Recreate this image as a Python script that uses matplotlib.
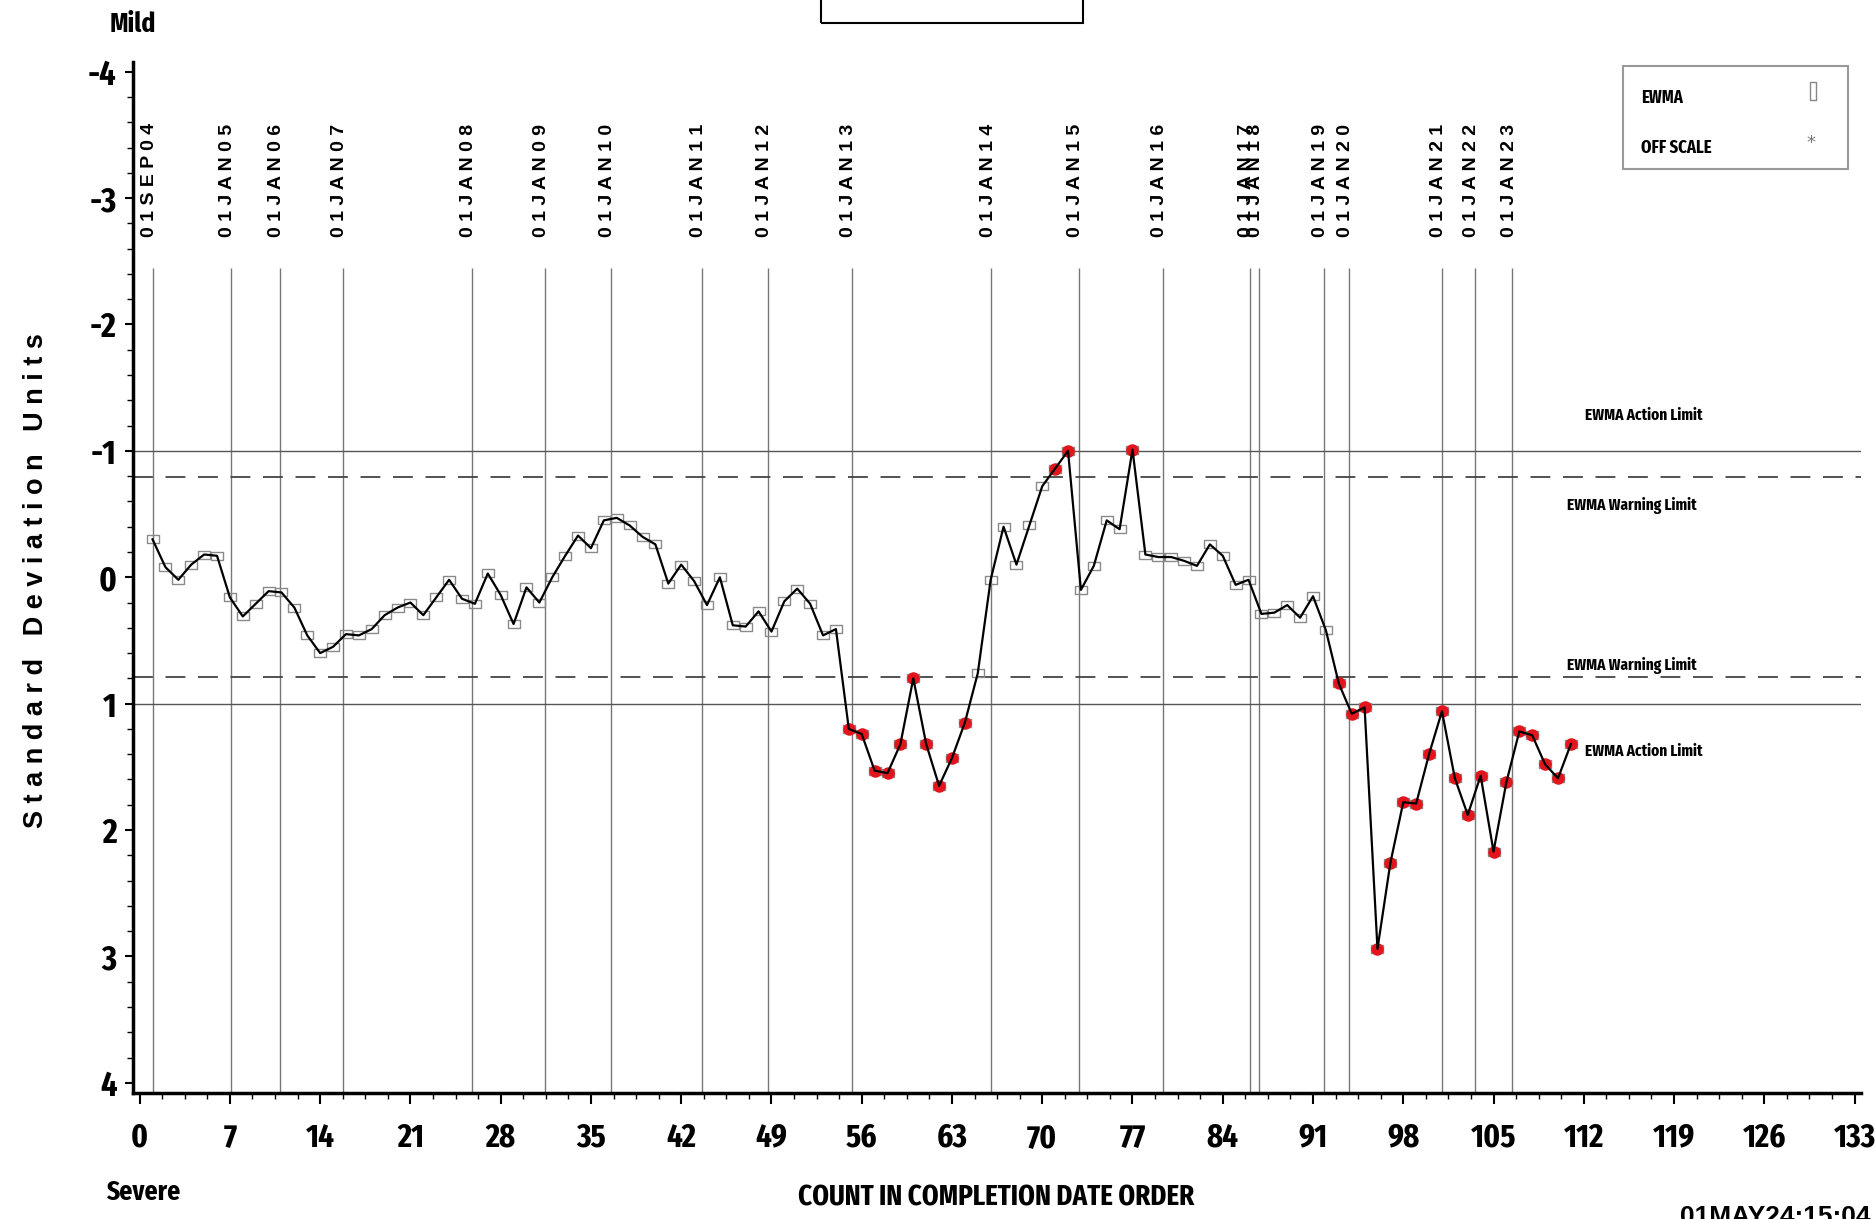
import numpy as np
import matplotlib.pyplot as plt
from matplotlib.patches import Rectangle
from matplotlib.ticker import MultipleLocator

# compressed bold face, with fallbacks
narrow = ['Fira Sans Extra Condensed', 'Roboto Condensed', 'Liberation Sans', 'DejaVu Sans']
plt.rcParams['font.family'] = narrow
plt.rcParams['font.weight'] = 'bold'

# EWMA in standard deviation units, one value per count (completion date order)
ewma = [-0.30, -0.08, 0.02, -0.10, -0.18, -0.17, 0.16, 0.31, 0.21, 0.11,
        0.12, 0.24, 0.46, 0.60, 0.55, 0.45, 0.46, 0.41, 0.30, 0.24,
        0.20, 0.30, 0.16, 0.02, 0.17, 0.21, -0.03, 0.14, 0.37, 0.08,
        0.20, 0.00, -0.17, -0.33, -0.23, -0.45, -0.47, -0.41, -0.32, -0.26,
        0.05, -0.10, 0.03, 0.22, 0.00, 0.38, 0.39, 0.27, 0.43, 0.19,
        0.09, 0.21, 0.46, 0.41, 1.20, 1.24, 1.53, 1.55, 1.32, 0.80,
        1.32, 1.65, 1.43, 1.15, 0.76, 0.02, -0.40, -0.10, -0.41, -0.72,
        -0.86, -1.00, 0.10, -0.09, -0.45, -0.38, -1.01, -0.18, -0.16, -0.16,
        -0.13, -0.09, -0.26, -0.17, 0.06, 0.02, 0.29, 0.28, 0.22, 0.32,
        0.15, 0.42, 0.84, 1.08, 1.03, 2.94, 2.26, 1.78, 1.79, 1.40,
        1.06, 1.59, 1.88, 1.57, 2.17, 1.62, 1.22, 1.25, 1.48, 1.59,
        1.32]
count = np.arange(1, len(ewma) + 1)
ewma = np.array(ewma)

action_limit = 1.0
warning_limit = 0.79

# reference dates and where they fall on the count axis
date_labels = ['01SEP04', '01JAN05', '01JAN06', '01JAN07', '01JAN08', '01JAN09',
               '01JAN10', '01JAN11', '01JAN12', '01JAN13', '01JAN14', '01JAN15',
               '01JAN16', '01JAN17', '01JAN18', '01JAN19', '01JAN20', '01JAN21',
               '01JAN22', '01JAN23']
date_pos = [1.0, 7.05, 10.85, 15.75, 25.75, 31.4, 36.55, 43.6, 48.7, 55.25,
            66.05, 72.85, 79.35, 86.1, 86.8, 91.85, 93.8, 101.0, 103.55, 106.45]

x_ticks = np.arange(0, 134, 7)
y_ticks = np.arange(-4, 5, 1)

fig = plt.figure(figsize=(18.75, 12.19), dpi=100)
ax = fig.add_axes([0.07104, 0.1034, 0.9215, 0.8461])
ax.set_xlim(-0.5, 133.5)
ax.set_ylim(4.08, -4.08)

for s in ['top', 'right']:
    ax.spines[s].set_visible(False)
for s in ['left', 'bottom']:
    ax.spines[s].set_linewidth(2.5)

# date reference lines
ax.vlines(date_pos, -2.45, 4.08, color='#777777', lw=1, zorder=1)
for p, lab in zip(date_pos, date_labels):
    ax.text(p - 0.25, -2.69, ' '.join(lab), rotation=90, ha='center', va='bottom',
            fontsize=14, family='Liberation Sans', weight='bold')

# limits
for lim in [-action_limit, action_limit]:
    ax.axhline(lim, color='#555555', lw=1, zorder=1)
for lim in [-warning_limit, warning_limit]:
    ax.axhline(lim, color='#444444', lw=1.3, ls=(0, (11, 7)), zorder=1)

ax.text(112.1, -1.28, 'EWMA Action Limit', fontsize=12, va='center')
ax.text(110.7, -0.57, 'EWMA Warning Limit', fontsize=12, va='center')
ax.text(110.7, 0.70, 'EWMA Warning Limit', fontsize=12, va='center')
ax.text(112.1, 1.38, 'EWMA Action Limit', fontsize=12, va='center')

# EWMA series
box = [(-1.4, -1), (1.4, -1), (1.4, 1), (-1.4, 1), (-1.4, -1)]
ax.plot(count, ewma, ls='none', marker=box, ms=9, mfc='none', mec='#8a8a8a',
        mew=1, zorder=3)
off = np.abs(ewma) > warning_limit
ax.plot(count[off], ewma[off], ls='none', marker='o', ms=8, color='#e3141c', zorder=3.5)
ax.plot(count, ewma, color='black', lw=1.6, zorder=4)

# axes ticks
ax.set_xticks(x_ticks)
ax.set_xticklabels([str(v) for v in x_ticks])
ax.xaxis.set_minor_locator(MultipleLocator(1.75))
ax.set_yticks(y_ticks)
ax.set_yticklabels([str(v) for v in y_ticks])
ax.yaxis.set_minor_locator(MultipleLocator(0.2))
ax.tick_params(axis='x', which='major', direction='out', length=8, width=1.5,
               labelsize=24, pad=13)
ax.tick_params(axis='y', which='major', direction='out', length=6, width=1.5,
               labelsize=25, pad=6)
ax.tick_params(which='minor', direction='out', length=4, width=1)

# legend box drawn by hand (labels left, symbols right)
ax.add_patch(Rectangle((0.862, 0.8958), 0.1305, 0.0998, transform=ax.transAxes,
                       fill=False, ec='#999999', lw=1.5, clip_on=False))
ax.text(0.8727, 0.9646, 'EWMA', transform=ax.transAxes, fontsize=13, va='center')
ax.text(0.8727, 0.9161, 'OFF SCALE', transform=ax.transAxes, fontsize=13, va='center')
tall = [(-0.35, -1), (0.35, -1), (0.35, 1), (-0.35, 1), (-0.35, -1)]
ax.plot([0.9722], [0.9714], transform=ax.transAxes, marker=tall, ms=13,
        mfc='none', mec='#888888', mew=1, clip_on=False)
ax.text(0.9713, 0.921, '*', transform=ax.transAxes, fontsize=13, color='#777777',
        ha='center', va='center', family='DejaVu Sans', weight='normal')

# surrounding texts
fig.text(0.0192, 0.524, 'S t a n d a r d   D e v i a t i o n   U n i t s',
         rotation=90, ha='center', va='center', fontsize=19.5,
         family='Liberation Sans', weight='bold')
fig.text(0.0709, 0.980, 'Mild', ha='center', va='center', fontsize=20)
fig.text(0.0765, 0.0222, 'Severe', ha='center', va='center', fontsize=20)
fig.text(0.531, 0.0172, 'COUNT IN COMPLETION DATE ORDER', ha='center', va='center',
         fontsize=21)
fig.text(0.896, 0.0115, '01MAY24:15:04', ha='left', va='top', fontsize=19,
         family='Liberation Sans', weight='bold')

# title box (cut at the top edge)
fig.add_artist(Rectangle((0.4379, 0.9811), 0.1397, 0.05, transform=fig.transFigure,
                         fill=False, ec='black', lw=1.5))

fig.savefig('out.png', dpi=100)
